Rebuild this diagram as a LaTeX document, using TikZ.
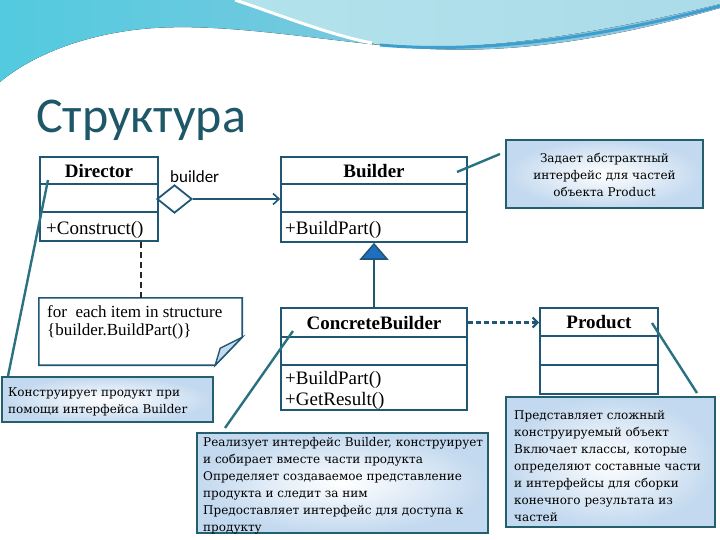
\documentclass[tikz,border=0pt]{standalone}
\usepackage{fontspec}
\setmainfont{Liberation Serif}
\newfontfamily\notefont{DejaVu Serif}
\newfontfamily\sansfont{Carlito}
\usetikzlibrary{arrows.meta,shapes.geometric,calc}
\definecolor{clsline}{HTML}{1F5774}
\definecolor{notedraw}{HTML}{245F6E}
\definecolor{pinline}{HTML}{2A7181}
\definecolor{titlecol}{HTML}{1E5868}
\definecolor{trifill}{HTML}{1F6EC0}
\definecolor{notefill}{HTML}{C3D9EF}
\definecolor{wavea}{HTML}{52CADF}
\definecolor{waveb}{HTML}{9CC8E0}
\definecolor{wavelight}{HTML}{B2E3EC}
\definecolor{wavestreak}{HTML}{3D9FD0}
\begin{document}
\begin{tikzpicture}[x=1pt,y=-1pt,
  classbox/.style={draw=clsline, line width=1.6pt, fill=white, inner sep=0pt},
  clsname/.style={font=\fontsize{19}{21}\selectfont\bfseries, inner sep=0pt, anchor=base},
  clsop/.style={font=\fontsize{19}{21}\selectfont, inner sep=0pt, anchor=base west},
  notebox/.style={draw=notedraw, line width=1.5pt, inner color=white, outer color=notefill, inner sep=0pt},
  notetext/.style={font=\notefont\fontsize{12}{17}\selectfont, align=left, anchor=north west, inner sep=0pt},
  pin/.style={draw=pinline, line width=2.4pt},
  sepline/.style={draw=clsline, line width=1.6pt},
  assoc/.style={draw=clsline, line width=1.6pt, -{Straight Barb[length=6pt,width=11pt]}},
  depend/.style={draw=clsline, line width=2.2pt, dash pattern=on 5pt off 3pt, -{Straight Barb[length=5pt,width=10pt]}},
  inherit/.style={draw=clsline, line width=1.6pt, -{Triangle[length=17pt,width=29pt,fill=trifill]}},
  notelink/.style={draw=black!85, line width=2pt, dash pattern=on 6pt off 4pt}
]
\useasboundingbox (0,0) rectangle (720,540);
\fill[white] (0,0) rectangle (720,540);
% background waves
\fill[left color=wavea, right color=waveb] (0,0) -- (720,0) -- (720,8)
  .. controls (600,42) and (500,56) .. (400,47)
  .. controls (300,38) and (200,18) .. (120,32)
  .. controls (60,42) and (20,65) .. (0,82) -- cycle;
\fill[left color=wavelight, right color=wavelight!70!waveb] (235,0)
  .. controls (280,15) and (330,35) .. (375,44)
  .. controls (460,54) and (580,38) .. (720,4) -- (720,0) -- cycle;
\draw[white, line width=3pt] (235,0) .. controls (280,15) and (330,35) .. (372,43);
\draw[wavestreak, line width=3pt] (380,45) .. controls (480,54) and (600,38) .. (720,6);
% title
\node[font=\sansfont\fontsize{50}{52}\selectfont, text=titlecol, anchor=base west, inner sep=0pt] (title) at (36,133) {Структура};
% classes
\node[classbox, minimum width=118pt, minimum height=84pt] (dir) at (99,199) {};
\draw[sepline] ($(dir.north west)+(0,28)$) -- ($(dir.north east)+(0,28)$);
\draw[sepline] ($(dir.north west)+(0,56)$) -- ($(dir.north east)+(0,56)$);
\node[clsname] (dirname) at (99,178) {Director};
\node[clsop] (dirop) at (46,234) {+Construct()};

\node[classbox, minimum width=186pt, minimum height=85pt] (bld) at (374,199.5) {};
\draw[sepline] ($(bld.north west)+(0,28)$) -- ($(bld.north east)+(0,28)$);
\draw[sepline] ($(bld.north west)+(0,56)$) -- ($(bld.north east)+(0,56)$);
\node[clsname] (bldname) at (374,178) {Builder};
\node[clsop] (bldop) at (285,234) {+BuildPart()};

\node[classbox, minimum width=186pt, minimum height=102pt] (cb) at (374,359) {};
\draw[sepline] ($(cb.north west)+(0,30)$) -- ($(cb.north east)+(0,30)$);
\draw[sepline] ($(cb.north west)+(0,58)$) -- ($(cb.north east)+(0,58)$);
\node[clsname] (cbname) at (374,329) {ConcreteBuilder};
\node[clsop] (cbop1) at (285,384) {+BuildPart()};
\node[clsop] (cbop2) at (285,405) {+GetResult()};

\node[classbox, minimum width=118pt, minimum height=86pt] (prod) at (599,351) {};
\draw[sepline] ($(prod.north west)+(0,29)$) -- ($(prod.north east)+(0,29)$);
\draw[sepline] ($(prod.north west)+(0,58)$) -- ($(prod.north east)+(0,58)$);
\node[clsname] (prodname) at (599,328) {Product};

% relations
\node[diamond, draw=clsline, line width=1.8pt, fill=white, minimum width=35pt, minimum height=28pt, inner sep=0pt] (diam) at (174.5,199) {};
\draw[assoc] (diam.east) -- (bld.west |- diam.east);
\node[font=\sansfont\fontsize{17}{19}\selectfont, anchor=base west, inner sep=0pt] (rolelbl) at (170,183) {builder};
\draw[inherit] (cb.north) -- (bld.south);
\draw[depend] (cbname -| cb.east) -- (cbname -| prod.west);

% code note
\node[minimum width=203pt, minimum height=67pt, inner sep=0pt] (code) at (140.5,331.5) {};
\draw[clsline, line width=1.6pt, fill=white] (code.north west) -- (code.north east) -- ($(code.south east)+(0,-28)$) -- ($(code.south east)+(-27,0)$) -- (code.south west) -- cycle;
\draw[clsline, line width=1.4pt, fill=notefill!80!trifill!60] ($(code.south east)+(0,-28)$) -- ($(code.south east)+(-27,0)$) -- ($(code.south east)+(-22,-17)$) -- cycle;
\node[font=\fontsize{17}{18}\selectfont, align=left, anchor=north west, inner sep=0pt] (codetxt) at (47,305.5) {for\ \ each item in structure\\\{builder.BuildPart()\}};
\draw[notelink] (code.north |- dir.south) -- (code.north);

% notes
\node[notebox, minimum width=197pt, minimum height=68pt] (nbld) at (604.5,174) {};
\node[font=\notefont\fontsize{12}{17}\selectfont, align=center, anchor=north, inner sep=0pt] (nbldtxt) at (604.5,152.5) {Задает абстрактный\\интерфейс для частей\\объекта Product};

\node[notebox, minimum width=211pt, minimum height=45pt] (ndir) at (107.5,399.5) {};
\node[notetext] (ndirtxt) at (8,387.5) {Конструирует продукт при\\помощи интерфейса Builder};

\node[notebox, minimum width=291pt, minimum height=100pt] (ncb) at (342.5,483) {};
\node[notetext] (ncbtxt) at (203,437.5) {Реализует интерфейс Builder, конструирует\\и собирает вместе части продукта\\Определяет создаваемое представление\\продукта и следит за ним\\Предоставляет интерфейс для доступа к\\продукту};

\node[notebox, minimum width=209pt, minimum height=130pt] (nprod) at (610.5,462) {};
\node[notetext] (nprodtxt) at (514,410) {Представляет сложный\\конструируемый объект\\Включает классы, которые\\определяют составные части\\и интерфейсы для сборки\\конечного результата из\\частей};

% note pins
\coordinate (p1a) at (48,180); \coordinate (p1b) at (8,376);
\coordinate (p2a) at (457,172); \coordinate (p2b) at (500,154);
\coordinate (p3a) at (293,331); \coordinate (p3b) at (225,428);
\coordinate (p4a) at (652,323); \coordinate (p4b) at (697,393);
\draw[pin] (p1a) -- (p1b);
\draw[pin] (p2a) -- (p2b);
\draw[pin] (p3a) -- (p3b);
\draw[pin] (p4a) -- (p4b);
\end{tikzpicture}
\end{document}
